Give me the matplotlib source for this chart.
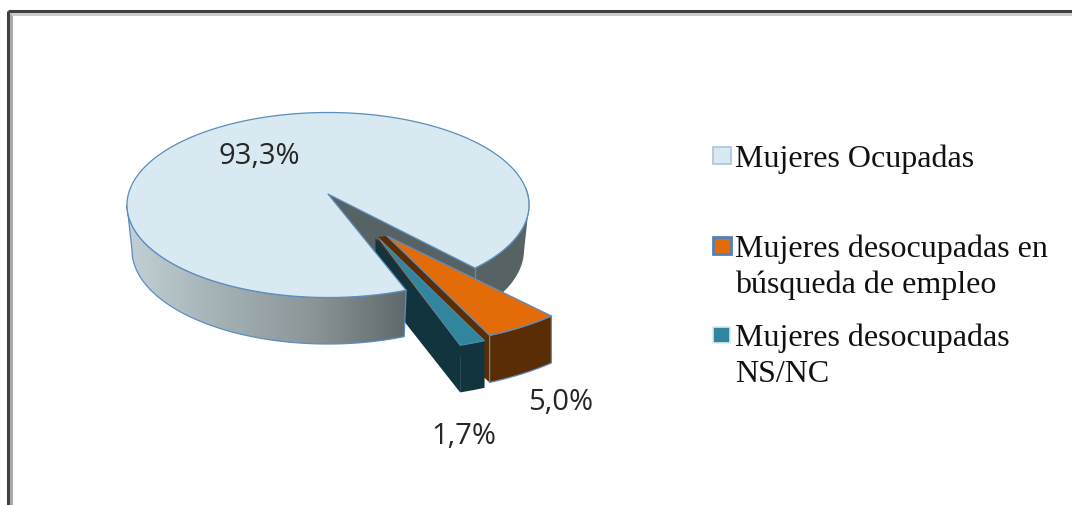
import numpy as np
import matplotlib.pyplot as plt
from matplotlib.colors import LinearSegmentedColormap
from matplotlib.patches import Polygon, Rectangle

# datos
categorias = ["Mujeres Ocupadas", "Mujeres desocupadas en\nbúsqueda de empleo", "Mujeres desocupadas\nNS/NC"]
valores = [93.3, 5.0, 1.7]
etiquetas = ["93,3%", "5,0%", "1,7%"]

# colores
c_top = ["#d9e9f1", "#e36c09", "#31859c"]
c_side = ["#566264", "#5b2d04", "#12343f"]
borde = "#5b8dbf"

W, H = 1072, 505
fig = plt.figure(figsize=(W / 100, H / 100), dpi=100)
ax = fig.add_axes([0, 0, 1, 1])

# pie in pixel space, angles clockwise from the x axis
cx, cy, A, B = 328, 205, 201, 92.5
cy_b, A_b, B_b = 250, 196, 94
prof = 47


def ell(a, r=1.0, x0=cx, y0=cy, aa=A, bb=B):
    a = np.radians(a)
    return np.column_stack([x0 + r * aa * np.cos(a), y0 + r * bb * np.sin(a)])


def arc(a1, a2, n=80, **kw):
    return ell(np.linspace(a1, a2, n), **kw)


def poly(pts, color, z, ec=borde, lw=0.9):
    ax.add_patch(Polygon(pts, closed=True, fc=color, ec=ec, lw=lw, zorder=z, joinstyle="round"))


grados = [v / sum(valores) * 360 for v in valores]

# main slice starts where the gap ends
ini_gap = 43
fin_gap = ini_gap + grados[1] + grados[2]
ini_main = fin_gap
fin_main = ini_main + grados[0]
vertice = np.array([[328, 194]])

# right part of outer wall and inner wall, behind the small slices
p1 = ell(ini_gap)
poly(np.vstack([p1, p1 + [0, prof], vertice + [0, prof], vertice]), c_side[0], 1, ec="none", lw=0)
der = np.vstack([arc(0, ini_gap), arc(ini_gap, 1, y0=cy_b, aa=A_b, bb=B_b)])
poly(der, c_side[0], 1, ec="none", lw=0)
ax.plot(*arc(-10, ini_gap).T, color=borde, lw=0.9, zorder=1.5)
ax.plot([p1[0, 0], p1[0, 0]], [p1[0, 1], p1[0, 1] + prof], color=borde, lw=0.9, zorder=1.5)

# orange slice
a1 = 46.6
a2 = a1 + grados[1]
v2 = np.array([387.0, 236.0])
r2 = 1.19
sup2 = arc(a1, a2, 20, r=r2, x0=v2[0], y0=v2[1])
inf2 = sup2 + [0, prof]
poly(np.vstack([[v2 - [9, -1]], [v2], sup2[-1:], inf2[-1:], [v2 - [9, -1 - prof]]]), c_side[1], 2, ec="none", lw=0)
poly(np.vstack([sup2, inf2[::-1]]), c_side[1], 2.1)
poly(np.vstack([[v2], sup2]), c_top[1], 2.2)

# teal slice
a3 = a2
a4 = a3 + grados[2]
v3 = np.array([378.5, 238.0])
r3 = 1.23
sup3 = arc(a3, a4, 10, r=r3, x0=v3[0], y0=v3[1])
inf3 = sup3 + [0, prof]
poly(np.vstack([[v3 - [3, 0]], sup3[-1:], inf3[-1:], [v3 + [-3, prof]]]), c_side[2], 3, ec="none", lw=0)
poly(np.vstack([sup3, inf3[::-1]]), c_side[2], 3.1, ec="none", lw=0)
poly(np.vstack([[v3], sup3]), c_top[2], 3.2, lw=0.6)

# left outer wall with gradient, then main top face on top of everything
p2 = ell(ini_main)
izq = np.vstack([arc(ini_main, 180), arc(180, ini_main, y0=cy_b, aa=A_b, bb=B_b)])
cm = LinearSegmentedColormap.from_list("pared", ["#c3d1d6", "#a3b1b5", "#8b9598", "#5f696b"])
grad = ax.imshow(np.linspace(0, 1, 256)[None, :], extent=[127, p2[0, 0], 350, 200], cmap=cm, aspect="auto", zorder=4)
clip = Polygon(izq, closed=True, transform=ax.transData, fc="none", ec="none")
ax.add_patch(clip)
grad.set_clip_path(clip)
poly(izq, "none", 4.1)
poly(np.vstack([vertice, arc(ini_main, fin_main, 300)]), c_top[0], 5)

# data labels
pos_et = [(259, 157), (561, 402), (464, 437)]
for et, (x, y) in zip(etiquetas, pos_et):
    ax.text(x, y, et, ha="center", va="center", fontsize=21, color="#262626", family="Open Sans", zorder=6)

# legend
pos_leg = [(713, 147, 18, 17), (713, 237, 18, 17), (713, 327, 17, 16)]
y_leg = [159, 267, 356]
for i in range(3):
    x, y, w, h = pos_leg[i]
    ax.add_patch(Rectangle((x, y), w, h, fc=c_top[i], ec="#a9c4df" if i == 0 else ("#4f81bd" if i == 1 else "#d9e9f1"),
                           lw=1.2 if i != 1 else 2, zorder=6))
    ax.text(735, y_leg[i], categorias[i], ha="left", va="center", fontsize=23, family="Liberation Serif",
            color="#111111", linespacing=1.3, zorder=6)

# window frame
ax.plot([8, 8], [H, 11], color="#404040", lw=2.2, zorder=7, solid_capstyle="butt")
ax.plot([8, W], [11, 11], color="#404040", lw=2.2, zorder=7, solid_capstyle="butt")
ax.plot([11, 11], [H, 13], color="#a8a8a8", lw=2.2, zorder=7, solid_capstyle="butt")
ax.plot([11, W], [13.5, 13.5], color="#c8c8c8", lw=2, zorder=7, solid_capstyle="butt")

ax.set_xlim(0, W)
ax.set_ylim(H, 0)
ax.axis("off")
fig.savefig("out.png", dpi=100)
